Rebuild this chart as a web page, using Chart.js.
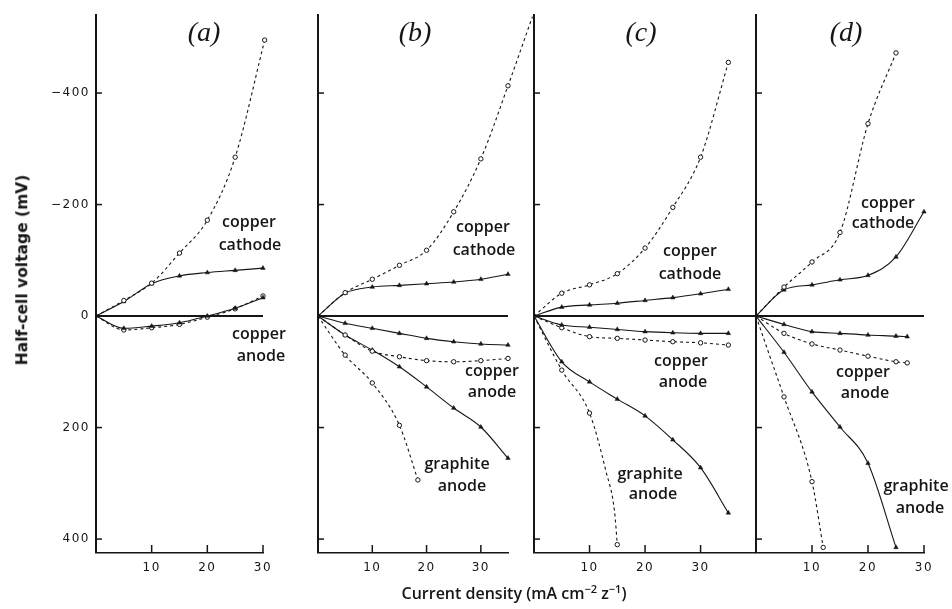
<!DOCTYPE html>
<html><head><meta charset="utf-8">
<script src="https://cdn.jsdelivr.net/npm/chart.js@4/dist/chart.umd.min.js"></script>
<style>
html,body{margin:0;padding:0;background:#fff;}
#wrap{position:relative;width:952px;height:609px;overflow:hidden;background:#fff;}
canvas{position:absolute;top:0;}
.t{position:absolute;transform:translate(-50%,-50%);white-space:nowrap;color:#161616;line-height:1;}
.lab{font-family:"Open Sans";font-size:16px;font-weight:600;}
.pan{font-family:"Liberation Serif";font-style:italic;font-size:28px;}
.ax{font-family:"Open Sans";font-size:16px;font-weight:600;}
.yt{font-family:"DejaVu Sans";font-size:15.5px;font-weight:bold;transform:translate(-50%,-50%) rotate(-90deg);}
</style></head><body><div id="wrap">
<canvas id="pa" width="300" height="609" style="left:0px"></canvas>
<canvas id="pb" width="240" height="609" style="left:300px"></canvas>
<canvas id="pc" width="240" height="609" style="left:520px"></canvas>
<canvas id="pd" width="212" height="609" style="left:740px"></canvas>

<div class="t pan" style="left:204px;top:32px">(a)</div>
<div class="t pan" style="left:415px;top:32px">(b)</div>
<div class="t pan" style="left:641px;top:32px">(c)</div>
<div class="t pan" style="left:846px;top:32px">(d)</div>

<div class="t lab" style="left:249px;top:221px">copper</div>
<div class="t lab" style="left:250px;top:244px">cathode</div>
<div class="t lab" style="left:259px;top:333px">copper</div>
<div class="t lab" style="left:261px;top:355px">anode</div>

<div class="t lab" style="left:483px;top:226px">copper</div>
<div class="t lab" style="left:484px;top:249px">cathode</div>
<div class="t lab" style="left:492px;top:370px">copper</div>
<div class="t lab" style="left:492px;top:391px">anode</div>
<div class="t lab" style="left:457px;top:463px">graphite</div>
<div class="t lab" style="left:462px;top:485px">anode</div>

<div class="t lab" style="left:690px;top:250px">copper</div>
<div class="t lab" style="left:690px;top:273px">cathode</div>
<div class="t lab" style="left:681px;top:360px">copper</div>
<div class="t lab" style="left:683px;top:381px">anode</div>
<div class="t lab" style="left:650px;top:473px">graphite</div>
<div class="t lab" style="left:653px;top:493px">anode</div>

<div class="t lab" style="left:888px;top:202px">copper</div>
<div class="t lab" style="left:883px;top:222px">cathode</div>
<div class="t lab" style="left:863px;top:371px">copper</div>
<div class="t lab" style="left:865px;top:392px">anode</div>
<div class="t lab" style="left:916px;top:485px">graphite</div>
<div class="t lab" style="left:920px;top:507px">anode</div>

<div class="t yt" style="left:23px;top:270px">Half-cell voltage (mV)</div>
<div class="t ax" style="left:514px;top:592px">Current density (mA cm<sup style="font-size:11px">−2</sup> z<sup style="font-size:11px">−1</sup>)</div>
</div>
<script>
// ---- tick labels ----
const yTickValues = [-400, -200, 0, 200, 400];
const xTickValues = [10, 20, 30];

// ---- panel (a) ----
const aX = [0, 5, 10, 15, 20, 25, 30];
const aCathodeCirclesX = [0, 5, 10, 15, 20, 25, 30.3];
const aCathodeCircles = [0, -28, -59, -113, -172, -285, -495];
const aCathodeTriangles = [0, -26, -58, -72, -78, -82, -86];
const aAnodeTriangles = [0, 22, 18, 12, 0, -14, -33];
const aAnodeCircles = [0, 25, 21, 15, 2, -13, -36];

// ---- panel (b) ----
const bX = [0, 5, 10, 15, 20, 25, 30, 35];
const bCathodeCirclesX = [0, 5, 10, 15, 20, 25, 30, 35, 39.5];
const bCathodeCircles = [0, -42, -66, -91, -118, -187, -282, -413, -537];
const bCathodeTriangles = [0, -41, -52, -55, -58, -61, -66, -75];
const bCuAnodeTriangles = [0, 13, 22, 31, 40, 46, 50, 52];
const bCuAnodeCircles = [0, 34, 63, 73, 80, 82, 80, 76];
const bGrAnodeTriangles = [0, 34, 61, 91, 127, 165, 199, 255];
const bGrAnodeCirclesX = [0, 5, 10, 15, 18.4];
const bGrAnodeCircles = [0, 70, 120, 196, 294];

// ---- panel (c) ----
const cX = [0, 5, 10, 15, 20, 25, 30, 35];
const cCathodeCircles = [0, -41, -56, -76, -122, -195, -285, -455];
const cCathodeTriangles = [0, -16, -20, -23, -28, -33, -40, -48];
const cCuAnodeTriangles = [0, 16, 20, 24, 28, 30, 31, 31];
const cCuAnodeCircles = [0, 21, 37, 40, 43, 46, 48, 52];
const cGrAnodeTriangles = [0, 82, 118, 149, 179, 222, 272, 353];
const cGrAnodeCirclesX = [0, 5, 10, 13, 14.5, 15];
const cGrAnodeCircles = [0, 97, 174, 280, 350, 410];

// ---- panel (d) ----
const dX = [0, 5, 10, 15, 20, 25, 30];
const dCathodeCirclesX = [0, 5, 10, 15, 20, 25];
const dCathodeCircles = [0, -52, -97, -150, -345, -472];
const dCathodeTriangles = [0, -47, -56, -65, -73, -106, -187];
const dCuAnodeX = [0, 5, 10, 15, 20, 25, 27];
const dCuAnodeTriangles = [0, 15, 28, 31, 34, 36, 37];
const dCuAnodeCircles = [0, 31, 50, 61, 72, 82, 84];
const dGrAnodeTrianglesX = [0, 5, 10, 15, 20, 25];
const dGrAnodeTriangles = [0, 65, 136, 199, 264, 415];
const dGrAnodeCirclesX = [0, 2.5, 5, 10, 12];
const dGrAnodeCircles = [0, 73, 145, 297, 415];

const INK = '#161616';

function markerRadius(r) {
  return ctx => {
    const n = ctx.dataset.data.length;
    const p = ctx.raw;
    if (!p || p.x === 0) return 0;
    if (p.x % 5 === 0 || ctx.dataIndex === n - 1) return r;
    return 0;
  };
}

function series(xs, ys, kind) {
  const data = xs.map((x, i) => ({x: x, y: ys[i]}));
  const base = {
    data, showLine: true, clip: false, fill: false,
    borderColor: INK, borderWidth: 1.1,
    cubicInterpolationMode: 'monotone',
    pointBorderColor: INK
  };
  if (kind === 'circle') {
    return Object.assign(base, {
      borderDash: [3, 3], pointStyle: 'circle',
      pointRadius: markerRadius(2.2), pointBackgroundColor: '#fff', pointBorderWidth: 1
    });
  }
  return Object.assign(base, {
    borderDash: [], pointStyle: 'triangle',
    pointRadius: markerRadius(2.6), pointBackgroundColor: INK, pointBorderWidth: 0.5
  });
}

const innerTicks = {
  id: 'innerTicks',
  beforeDraw(chart) { chart.ctx.letterSpacing = '1.5px'; },
  afterDraw(chart) {
    const {ctx, chartArea: a, scales: {x, y}} = chart;
    ctx.save();
    ctx.strokeStyle = INK; ctx.lineWidth = 1.5; ctx.setLineDash([]);
    y.ticks.forEach(t => {
      if (t.value === 0) return;
      const py = y.getPixelForValue(t.value);
      ctx.beginPath(); ctx.moveTo(a.left - 1, py); ctx.lineTo(a.left + 6, py); ctx.stroke();
    });
    x.ticks.forEach(t => {
      const px = x.getPixelForValue(t.value);
      ctx.beginPath(); ctx.moveTo(px, a.bottom); ctx.lineTo(px, a.bottom - 8); ctx.stroke();
    });
    ctx.restore();
    ctx.letterSpacing = '0px';
  }
};

function makePanel(id, datasets, xmax, padL, padR, yWidth, showYLabels) {
  return new Chart(document.getElementById(id), {
    type: 'scatter',
    data: {datasets},
    options: {
      responsive: false, animation: false,
      layout: {padding: {left: padL, right: padR, top: 15, bottom: 0}},
      plugins: {legend: {display: false}, tooltip: {enabled: false}},
      scales: {
        x: {
          type: 'linear', min: 0, max: xmax,
          afterBuildTicks: s => { s.ticks = xTickValues.filter(v => v <= xmax).map(v => ({value: v})); },
          afterFit: s => { s.height = 56; s.paddingLeft = 0; s.paddingRight = 0; },
          grid: {display: false, drawTicks: false},
          border: {display: true, color: INK, width: 1.5},
          ticks: {padding: 8, color: INK, maxRotation: 0, autoSkip: false,
                  font: {family: 'DejaVu Sans', size: 12}}
        },
        y: {
          type: 'linear', min: -540, max: 425, reverse: true,
          afterBuildTicks: s => { s.ticks = yTickValues.map(v => ({value: v})); },
          afterFit: s => { s.width = yWidth; s.paddingTop = 0; s.paddingBottom = 0; },
          grid: {
            drawTicks: false,
            color: c => (c.tick && c.tick.value === 0) ? INK : 'rgba(0,0,0,0)',
            lineWidth: c => (c.tick && c.tick.value === 0) ? 2 : 0
          },
          border: {display: true, color: INK, width: 2},
          ticks: {display: showYLabels, padding: 6, color: INK, autoSkip: false,
                  font: {family: 'DejaVu Sans', size: 12},
                  callback: v => v < 0 ? '\u2212' + Math.abs(v) : String(v)}
        }
      }
    },
    plugins: [innerTicks]
  });
}

makePanel('pa', [
  series(aCathodeCirclesX, aCathodeCircles, 'circle'),
  series(aX, aCathodeTriangles, 'triangle'),
  series(aX, aAnodeTriangles, 'triangle'),
  series(aX, aAnodeCircles, 'circle')
], 30.001, 0, 37, 96, true);

makePanel('pb', [
  series(bCathodeCirclesX, bCathodeCircles, 'circle'),
  series(bX, bCathodeTriangles, 'triangle'),
  series(bX, bCuAnodeTriangles, 'triangle'),
  series(bX, bCuAnodeCircles, 'circle'),
  series(bX, bGrAnodeTriangles, 'triangle'),
  series(bGrAnodeCirclesX, bGrAnodeCircles, 'circle')
], 35.001, 18, 32, 0, false);

makePanel('pc', [
  series(cX, cCathodeCircles, 'circle'),
  series(cX, cCathodeTriangles, 'triangle'),
  series(cX, cCuAnodeTriangles, 'triangle'),
  series(cX, cCuAnodeCircles, 'circle'),
  series(cX, cGrAnodeTriangles, 'triangle'),
  series(cGrAnodeCirclesX, cGrAnodeCircles, 'circle')
], 39.8, 14, 5, 0, false);

makePanel('pd', [
  series(dCathodeCirclesX, dCathodeCircles, 'circle'),
  series(dX, dCathodeTriangles, 'triangle'),
  series(dCuAnodeX, dCuAnodeTriangles, 'triangle'),
  series(dCuAnodeX, dCuAnodeCircles, 'circle'),
  series(dGrAnodeTrianglesX, dGrAnodeTriangles, 'triangle'),
  series(dGrAnodeCirclesX, dGrAnodeCircles, 'circle')
], 30.001, 16, 28, 0, false);
</script>
</body></html>
